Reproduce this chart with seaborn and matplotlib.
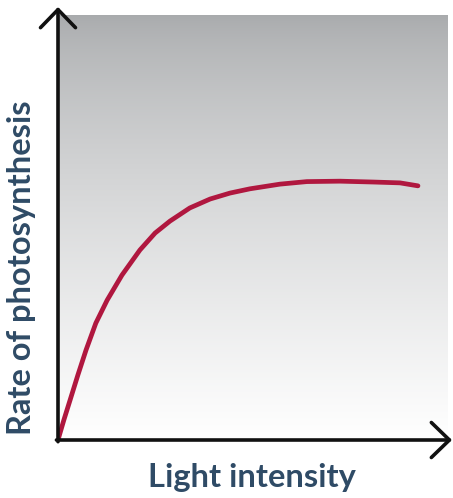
import numpy as np
import pandas as pd
import matplotlib
matplotlib.use("Agg")
import matplotlib.pyplot as plt
import seaborn as sns

# Data (arbitrary units)
light_intensity = [0, 1.5, 3.1, 5.1, 7.2, 9.7, 12.6, 16.4, 21.0, 24.9, 28.7,
                   33.8, 39.0, 44.1, 49.2, 56.9, 63.8, 72.3, 80.8, 87.7, 92.3]
photo_rate = [0, 4.7, 9.4, 15.3, 21.2, 27.5, 32.9, 38.8, 44.7, 48.7, 51.5,
              54.6, 56.7, 58.1, 59.1, 60.2, 60.8, 60.9, 60.7, 60.5, 59.8]
x_label = "Light intensity"
y_label = "Rate of photosynthesis"

df = pd.DataFrame({"x": light_intensity, "y": photo_rate})

sns.set_theme(style="white")
plt.rcParams["font.family"] = ["Lato", "DejaVu Sans"]

W, H = 453, 498
fig = plt.figure(figsize=(W / 100, H / 100), dpi=100)
fig.patch.set_facecolor("white")

# axes in pixel coordinates
x0, x1 = 58, 448
ytop, ybot = 15, 440
ax = fig.add_axes([x0 / W, (H - ybot) / H, (x1 - x0) / W, (ybot - ytop) / H])

# gradient background (gray at top, white at bottom)
t = np.linspace(0, 1, 256)[:, None]
top = np.array([168, 170, 172]) / 255
bot = np.array([255, 255, 255]) / 255
g = t ** 0.72
grad = top[None, None, :] * (1 - g[..., None]) + bot[None, None, :] * g[..., None]
grad = np.repeat(grad, 2, axis=1)
ax.imshow(grad, extent=[0, 100, 0, 100], aspect="auto", zorder=0, origin="upper")
ax.set_xlim(0, 100)
ax.set_ylim(0, 100)

sns.lineplot(data=df, x="x", y="y", ax=ax, color="#b0173f", linewidth=3.4,
             solid_capstyle="round", solid_joinstyle="round", zorder=3)

for s in ax.spines.values():
    s.set_visible(False)
ax.set_xticks([])
ax.set_yticks([])
ax.set_xlabel("")
ax.set_ylabel("")

# axis arrows
arrow_kw = dict(arrowstyle="->,head_length=1.3,head_width=1.26", color="#111111",
                lw=2.6, shrinkA=0, shrinkB=0, mutation_scale=10)
ax.annotate("", xy=(0, (ybot - 7) / (ybot - ytop)), xytext=(0, -0.004),
            xycoords="axes fraction", textcoords="axes fraction",
            arrowprops=arrow_kw, annotation_clip=False)
ax.annotate("", xy=((452 - x0) / (x1 - x0), 0), xytext=(-0.004, 0),
            xycoords="axes fraction", textcoords="axes fraction",
            arrowprops=arrow_kw, annotation_clip=False)

txt_color = "#2f4b66"
fig.text(252 / W, 1 - 478 / H, x_label, ha="center", va="center",
         fontsize=23.5, fontweight="bold", color=txt_color)
fig.text(22 / W, 1 - 268 / H, y_label, ha="center", va="center", rotation=90,
         fontsize=23.5, fontweight="bold", color=txt_color)

fig.savefig("out.png", dpi=100)
